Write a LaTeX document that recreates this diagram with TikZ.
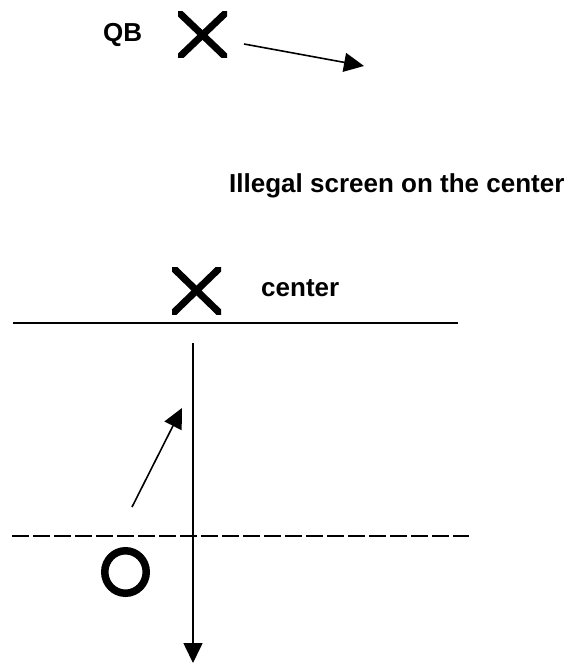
\documentclass[tikz,border=0pt]{standalone}
\usepackage{fontspec}
\setmainfont{Liberation Sans}
\usetikzlibrary{arrows.meta}
\begin{document}
\begin{tikzpicture}[x=1pt,y=-1pt,
  lbl/.style={font=\fontsize{26}{30}\selectfont\bfseries, inner sep=0pt, anchor=base west},
  conn/.style={line width=1.6pt, -{Triangle[length=20pt,width=19pt]}},
  rule/.style={line width=2pt},
  markstroke/.style={line width=7pt}]
\useasboundingbox (0,0) rectangle (567,671);
% texts
\node[lbl] (qb) at (103,42) {QB};
\node[lbl] (illegal) at (229,192) {Illegal screen on the center};
\node[lbl] (centerlbl) at (261,296) {center};
% top cross
\begin{scope}
  \clip (178,12) rectangle (227,58);
  \draw[markstroke] (170,4) -- (235,66);
  \draw[markstroke] (235,4) -- (170,66);
\end{scope}
% center cross
\begin{scope}
  \clip (172,267) rectangle (221,314);
  \draw[markstroke] (164,259) -- (229,322);
  \draw[markstroke] (229,259) -- (164,322);
\end{scope}
% O marker
\draw[line width=7.5pt] (125.5,572) ellipse [x radius=20.75, y radius=21.25];
% coordinates
\coordinate (a1s) at (244,44);
\coordinate (a1e) at (364,66);
\coordinate (hl) at (13,323);
\coordinate (hr) at (458,323);
\coordinate (vs) at (193,343);
\coordinate (ve) at (193,663);
\coordinate (ss) at (132,507);
\coordinate (se) at (182,408);
\coordinate (dl) at (12,536);
\coordinate (dr) at (469,536);
% connectors
\draw[conn] (a1s) -- (a1e);
\draw[rule] (hl) -- (hr);
\draw[conn] (vs) -- (ve);
\draw[conn] (ss) -- (se);
\draw[rule, dash pattern=on 17pt off 4pt] (dl) -- (dr);
\end{tikzpicture}
\end{document}
